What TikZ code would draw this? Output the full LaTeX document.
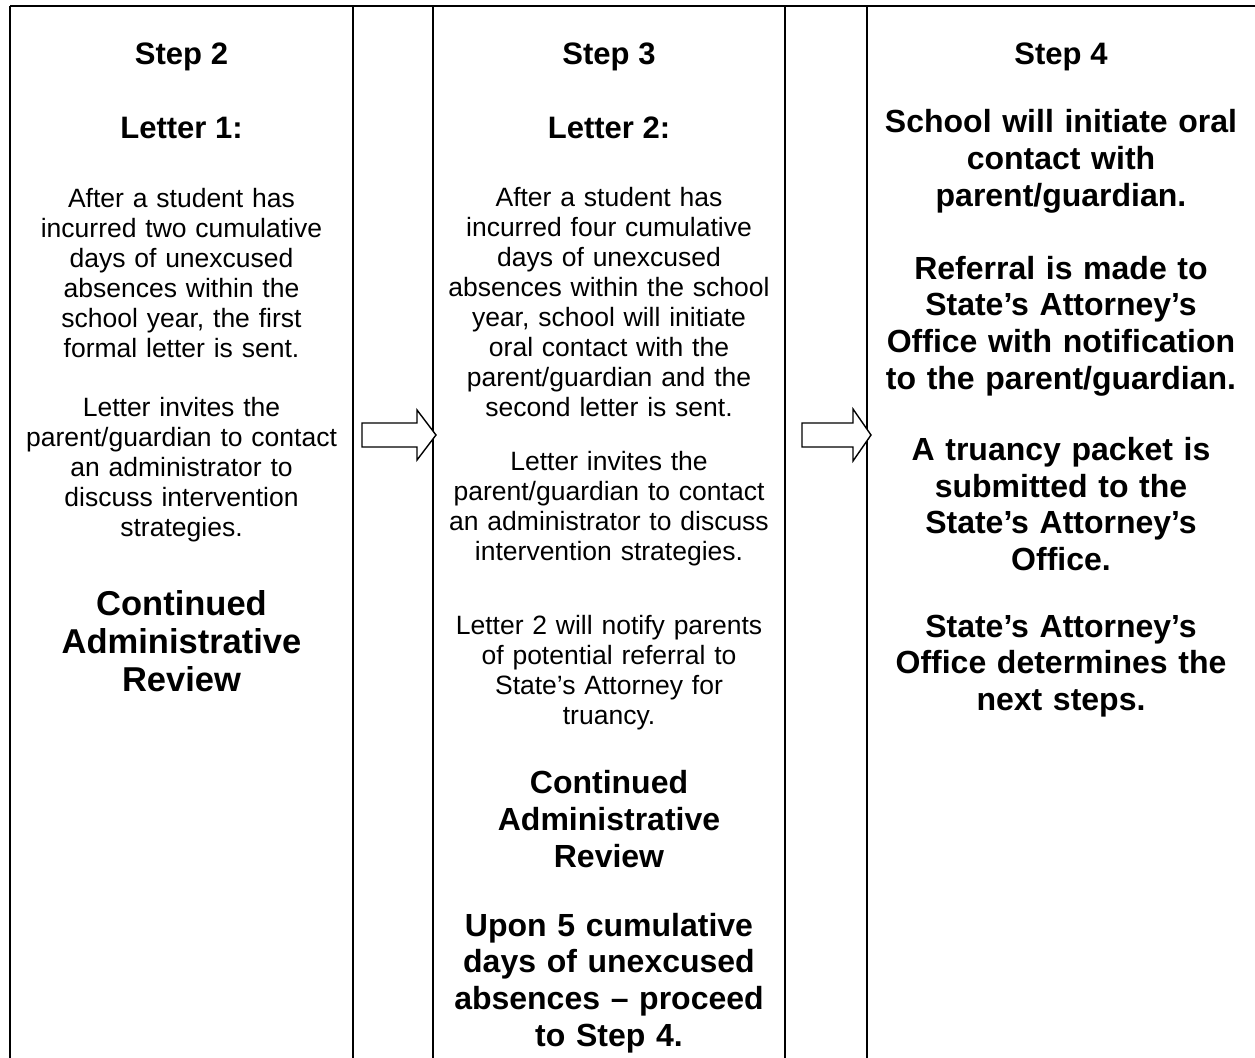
\documentclass[tikz,border=0pt]{standalone}
\usepackage{fontspec}
\setmainfont{Liberation Sans}
\begin{document}
\begin{tikzpicture}[x=1pt,y=-1pt,
  rule/.style={line width=2.4pt},
  blockarrow/.style={draw,line width=1.4pt,fill=white,line join=miter},
  txt/.style={align=center,inner sep=0pt,text width=390pt,
    font=\fontsize{26.5}{30}\selectfont},
  head/.style={align=center,inner sep=0pt,
    font=\bfseries\fontsize{31}{36}\selectfont},
  bigb/.style={align=center,inner sep=0pt,text width=390pt,
    font=\bfseries\fontsize{34.5}{38}\selectfont},
  midb/.style={align=center,inner sep=0pt,text width=390pt,
    font=\bfseries\fontsize{32}{36.8}\selectfont}]
\useasboundingbox (0,0) rectangle (1255,1057);
% table rules
\coordinate (tl) at (10,6);
\coordinate (tr) at (1256,6);
\draw[rule] (tl) -- (tr);
\foreach \xx in {10,353,433,785,867}{
  \draw[rule] (\xx,6) -- (\xx,1058);
}
% block arrows
\draw[blockarrow] (362,423) -- (417,423) -- (417,410) -- (436,435)
  -- (417,460) -- (417,447) -- (362,447) -- cycle;
\draw[blockarrow] (802,423) -- (853,423) -- (853,409) -- (871,435)
  -- (853,461) -- (853,447) -- (802,447) -- cycle;
% column 1
\node[head] (s2) at (181.5,57) {Step 2};
\node[head] (l1) at (181.5,128) {Letter 1:};
\node[txt] (c1p1) at (181.5,273) {After a student has\\incurred two cumulative\\days of unexcused\\absences within the\\school year, the first\\formal letter is sent.};
\node[txt] (c1p2) at (181.5,470) {Letter invites the\\parent/guardian to contact\\an administrator to\\discuss intervention\\strategies.};
\node[bigb] (c1p3) at (181.5,641) {Continued\\Administrative\\Review};
% column 2
\node[head] (s3) at (609,57) {Step 3};
\node[head] (l2) at (609,128) {Letter 2:};
\node[txt] (c2p1) at (609,302) {After a student has\\incurred four cumulative\\days of unexcused\\absences within the school\\year, school will initiate\\oral contact with the\\parent/guardian and the\\second letter is sent.};
\node[txt] (c2p2) at (609,509) {Letter invites the\\parent/guardian to contact\\an administrator to discuss\\intervention strategies.};
\node[txt] (c2p3) at (609,673) {Letter 2 will notify parents\\of potential referral to\\State’s Attorney for\\truancy.};
\node[midb] (c2p4) at (609,819) {Continued\\Administrative\\Review};
\node[midb] (c2p5) at (609,983) {Upon 5 cumulative\\days of unexcused\\absences – proceed\\to Step 4.};
% column 3
\node[head] (s4) at (1061,57) {Step 4};
\node[midb] (c3p1) at (1061,161) {School will initiate oral\\contact with\\parent/guardian.};
\node[midb] (c3p2) at (1061,326) {Referral is made to\\State’s Attorney’s\\Office with notification\\to the parent/guardian.};
\node[midb] (c3p3) at (1061,504) {A truancy packet is\\submitted to the\\State’s Attorney’s\\Office.};
\node[midb] (c3p4) at (1061,666) {State’s Attorney’s\\Office determines the\\next steps.};
\end{tikzpicture}
\end{document}
